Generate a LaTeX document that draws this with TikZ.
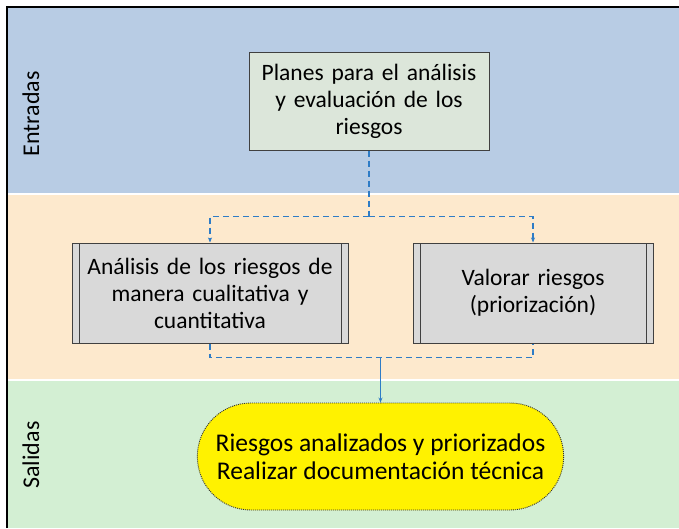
\documentclass[tikz,border=0pt]{standalone}
\usepackage{fontspec}
\setmainfont{Carlito}
\usetikzlibrary{arrows.meta, shapes.misc, positioning, calc}
\definecolor{bandblue}{HTML}{B8CCE4}
\definecolor{bandorange}{HTML}{FDE9CD}
\definecolor{bandgreen}{HTML}{D3EFD3}
\definecolor{boxgreen}{HTML}{DCE6DA}
\definecolor{boxgray}{HTML}{D9D9D9}
\definecolor{lineblue}{HTML}{2E7CC6}
\definecolor{edgegray}{HTML}{404040}

\begin{document}
\begin{tikzpicture}[x=1pt, y=1pt,
    caja/.style={draw=edgegray, line width=1pt, align=center, inner sep=3pt,
      font=\fontsize{23.5}{27}\selectfont},
    proceso/.style={caja, fill=boxgray, minimum height=100pt,
      path picture={
        \draw[edgegray, line width=1pt]
          ([xshift=7pt]path picture bounding box.north west) -- ([xshift=7pt]path picture bounding box.south west)
          ([xshift=-7pt]path picture bounding box.north east) -- ([xshift=-7pt]path picture bounding box.south east);
      }},
    conector/.style={lineblue, line width=1.1pt, dash pattern=on 6pt off 4pt},
    banda/.style={font=\fontsize{24}{28}\selectfont, rotate=90}]
  \useasboundingbox (0,0) rectangle (679,-528);

  % bandas
  \fill[bandblue] (7,-7) rectangle (679,-194);
  \fill[bandorange] (7,-194) rectangle (679,-380);
  \fill[bandgreen] (7,-380) rectangle (679,-528);
  \draw[white, line width=1.2pt] (7,-194) -- (679,-194) (7,-380) -- (679,-380);
  \draw[black, line width=1.4pt] (7,-528) -- (7,-7) -- (679,-7);
  \node[banda] (Ent) at (31,-114) {Entradas};
  \node[banda] (Sal) at (31,-455) {Salidas};

  % cajas
  \node[caja, fill=boxgreen, minimum width=240pt, minimum height=98pt, text width=232pt] (Plan) at (369,-101)
    {Planes para el análisis\\ y evaluación de los\\ riesgos};
  \node[proceso, minimum width=276pt, text width=266pt] (Ana) at (210,-293)
    {Análisis de los riesgos de\\ manera cualitativa y\\ cuantitativa};
  \node[proceso, minimum width=240pt, text width=230pt] (Val) at (533,-293)
    {Valorar riesgos\\ (priorización)};
  \node[rounded rectangle, draw=black!80, fill=yellow, line width=0.9pt, dash pattern=on 1pt off 1pt,
    minimum width=373pt, minimum height=107pt, align=center, font=\fontsize{25.5}{28}\selectfont] (Res) at (380.5,-456.5)
    {Riesgos analizados y priorizados\\ Realizar documentación técnica};

  % conectores
  \coordinate (J1) at ($(Plan.south)+(0,-66)$);
  \coordinate (J2) at ($(Res.north)+(0,45)$);
  \draw[conector] (Plan.south) -- (J1);
  \draw[conector, -{Stealth[length=5pt, width=4pt]}] (J1) -| (Ana.north);
  \draw[conector, -{Stealth[length=5pt, width=4pt]}] (J1) -| (Val.north);
  \draw[conector] (Ana.south) |- (J2) -| (Val.south);
  \draw[lineblue, line width=1.1pt, -{Stealth[length=5pt, width=4pt]}] (J2) -- (Res.north);
\end{tikzpicture}
\end{document}
